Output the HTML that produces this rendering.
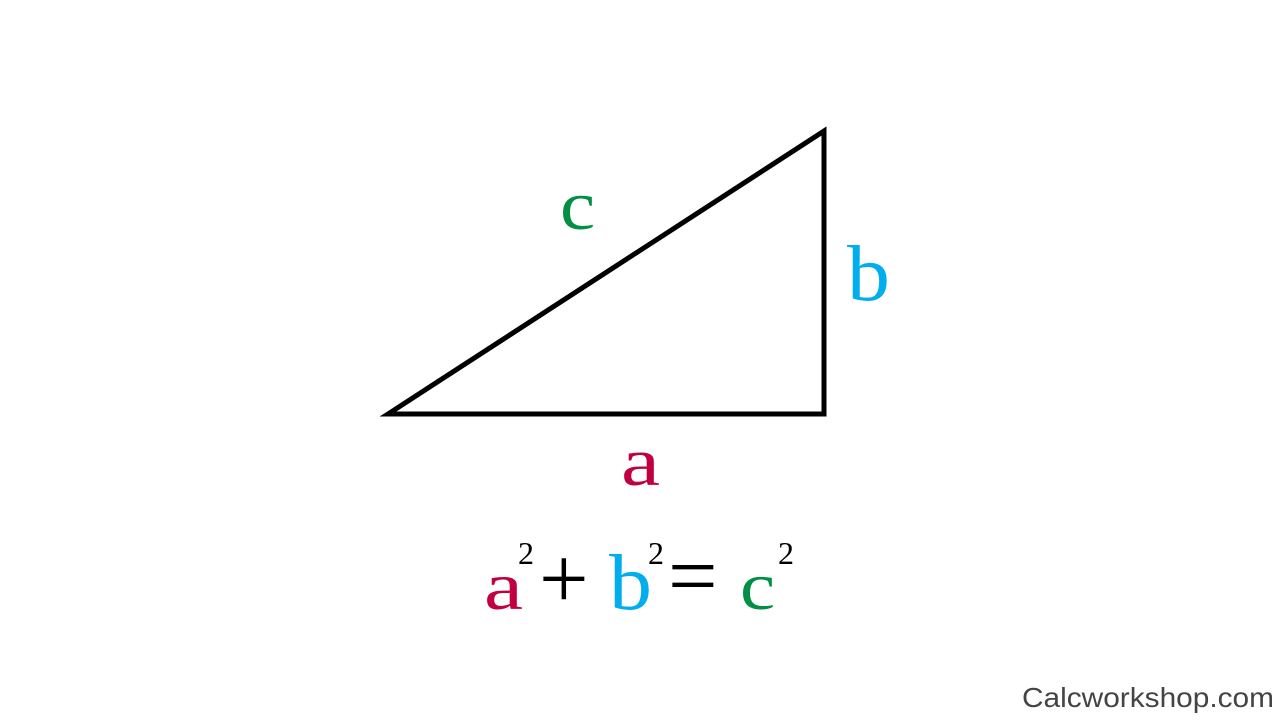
<!DOCTYPE html>
<html><head><meta charset="utf-8"><style>
html,body{margin:0;padding:0;background:#fff;width:1280px;height:720px;overflow:hidden}
svg{display:block}
.s{font-family:"Liberation Serif",serif}
</style></head><body>
<svg width="1280" height="720" viewBox="0 0 1280 720">
<polygon points="388,414 824,414 824,131" fill="none" stroke="#000" stroke-width="5" stroke-linejoin="miter"/>
<g transform="translate(560,229) scale(0.9,0.8)"><text class="s" x="0" y="0" font-size="88" fill="#008f45">c</text></g>
<g transform="translate(847,300) scale(1,0.93)"><text class="s" x="0" y="0" font-size="86" fill="#00aeef">b</text></g>
<g transform="translate(621,485) scale(1,0.78)"><text class="s" x="0" y="0" font-size="88" fill="#c1003f">a</text></g>
<g class="s">
<g transform="translate(484,609) scale(1,0.77)"><text x="0" y="0" font-size="88" fill="#c1003f">a</text></g>
<text x="518" y="564" font-size="32" fill="#000">2</text>
<text x="539" y="608" font-size="88" fill="#000">+</text>
<g transform="translate(609,609) scale(1,0.93)"><text x="0" y="0" font-size="86" fill="#00aeef">b</text></g>
<text x="648" y="564" font-size="32" fill="#000">2</text>
<text x="668" y="605" font-size="88" fill="#000">=</text>
<g transform="translate(740,609) scale(0.9,0.77)"><text x="0" y="0" font-size="88" fill="#008f45">c</text></g>
<text x="778" y="564" font-size="32" fill="#000">2</text>
</g>
<text x="1022" y="707" font-family="Liberation Sans, sans-serif" font-size="28" fill="#444" textLength="252" lengthAdjust="spacingAndGlyphs">Calcworkshop.com</text>
</svg>
</body></html>
